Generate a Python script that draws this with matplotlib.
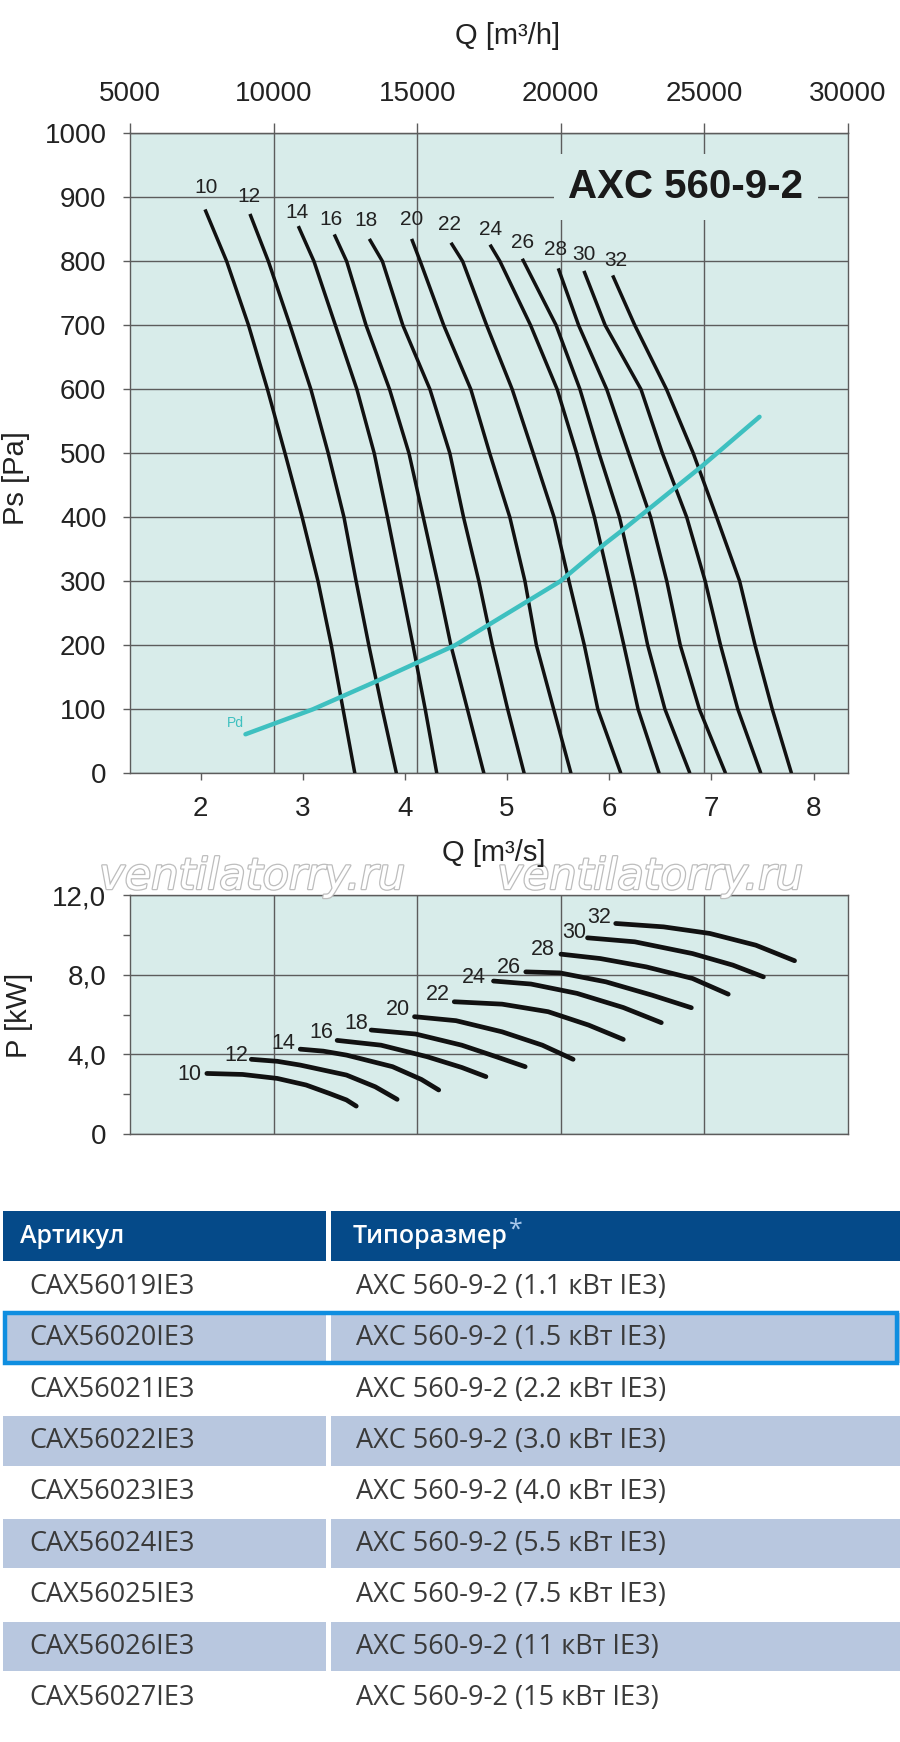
import matplotlib
matplotlib.use("Agg")
import matplotlib.pyplot as plt
from matplotlib.patches import Rectangle
import matplotlib.patheffects as pe

# ---------------- data ----------------
angles = [10, 12, 14, 16, 18, 20, 22, 24, 26, 28, 30, 32]

ps_q = [
    [2.044, 2.256, 2.47, 2.655, 2.827, 2.995, 3.15, 3.28, 3.395, 3.51],
    [2.484, 2.664, 2.876, 3.08, 3.25, 3.404, 3.523, 3.647, 3.779, 3.917],
    [2.957, 3.11, 3.32, 3.53, 3.70, 3.83, 3.955, 4.079, 4.199, 4.312],
    [3.309, 3.43, 3.62, 3.85, 4.04, 4.18, 4.319, 4.45, 4.612, 4.773],
    [3.652, 3.78, 3.98, 4.245, 4.44, 4.574, 4.724, 4.856, 5.006, 5.167],
    [4.066, 4.15, 4.38, 4.645, 4.83, 5.027, 5.175, 5.287, 5.456, 5.625],
    [4.451, 4.565, 4.80, 5.05, 5.256, 5.46, 5.606, 5.756, 5.888, 6.113],
    [4.833, 4.93, 5.23, 5.49, 5.681, 5.855, 6.00, 6.143, 6.282, 6.488],
    [5.149, 5.48, 5.713, 5.90, 6.10, 6.244, 6.376, 6.545, 6.789],
    [5.501, 5.70, 5.975, 6.19, 6.405, 6.563, 6.695, 6.882, 7.138],
    [5.752, 5.96, 6.31, 6.52, 6.758, 6.939, 7.089, 7.258, 7.483],
    [6.033, 6.25, 6.56, 6.822, 7.051, 7.276, 7.427, 7.595, 7.783],
]
ps_p = [
    [881, 800, 700, 600, 500, 400, 300, 200, 100, 0],
    [874, 800, 700, 600, 500, 400, 300, 200, 100, 0],
    [855, 800, 700, 600, 500, 400, 300, 200, 100, 0],
    [842, 800, 700, 600, 500, 400, 300, 200, 100, 0],
    [835, 800, 700, 600, 500, 400, 300, 200, 100, 0],
    [835, 800, 700, 600, 500, 400, 300, 200, 100, 0],
    [829, 800, 700, 600, 500, 400, 300, 200, 100, 0],
    [826, 800, 700, 600, 500, 400, 300, 200, 100, 0],
    [804, 700, 600, 500, 400, 300, 200, 100, 0],
    [789, 700, 600, 500, 400, 300, 200, 100, 0],
    [785, 700, 600, 500, 400, 300, 200, 100, 0],
    [778, 700, 600, 500, 400, 300, 200, 100, 0],
]
ps_label_q = [2.054, 2.478, 2.947, 3.277, 3.619, 4.066, 4.438, 4.842, 5.149, 5.475, 5.756, 6.066]
ps_label_p = [915, 902, 877, 866, 863, 866, 858, 850, 830, 818, 811, 801]

pd_q = [2.44, 3.10, 3.71, 4.49, 4.84, 5.52, 5.96, 6.17, 6.90, 7.47]
pd_p = [61, 100, 143, 200, 234, 300, 359, 385, 479, 557]

pw_q = [
    [2.062, 2.412, 2.751, 3.033, 3.259, 3.428, 3.524],
    [2.497, 2.751, 2.976, 3.428, 3.710, 3.924],
    [2.976, 3.202, 3.43, 3.879, 4.161, 4.331],
    [3.337, 3.766, 4.218, 4.557, 4.793],
    [3.670, 4.105, 4.556, 4.894, 5.177],
    [4.094, 4.50, 4.951, 5.345, 5.646],
    [4.483, 4.951, 5.402, 5.797, 6.137],
    [4.867, 5.233, 5.685, 6.137, 6.509],
    [5.183, 5.516, 5.967, 6.419, 6.803],
    [5.527, 5.911, 6.362, 6.814, 7.164],
    [5.787, 6.249, 6.814, 7.209, 7.508],
    [6.063, 6.532, 6.983, 7.434, 7.813],
]
pw_p = [
    [3.04, 2.99, 2.79, 2.46, 2.04, 1.71, 1.40],
    [3.75, 3.65, 3.46, 2.96, 2.37, 1.74],
    [4.26, 4.16, 3.96, 3.38, 2.74, 2.21],
    [4.70, 4.46, 3.88, 3.34, 2.88],
    [5.22, 5.02, 4.46, 3.88, 3.38],
    [5.89, 5.69, 5.13, 4.46, 3.75],
    [6.64, 6.52, 6.14, 5.47, 4.75],
    [7.68, 7.53, 7.06, 6.35, 5.59],
    [8.14, 8.09, 7.64, 6.97, 6.34],
    [9.03, 8.81, 8.39, 7.81, 7.02],
    [9.85, 9.65, 9.06, 8.48, 7.89],
    [10.57, 10.40, 10.07, 9.48, 8.70],
]
pw_label_q = [1.887, 2.35, 2.807, 3.18, 3.524, 3.936, 4.32, 4.675, 5.013, 5.346, 5.657, 5.905]
pw_label_p = [3.01, 3.93, 4.52, 5.10, 5.55, 6.27, 7.02, 7.86, 8.36, 9.28, 10.12, 10.87]

qs_ticks = [2, 3, 4, 5, 6, 7, 8]
qh_ticks = [5000, 10000, 15000, 20000, 25000, 30000]
ps_ticks = [0, 100, 200, 300, 400, 500, 600, 700, 800, 900, 1000]
pw_ticks = [0, 4, 8, 12]
pw_tick_labels = ["0", "4,0", "8,0", "12,0"]

articles = ["CAX56019IE3", "CAX56020IE3", "CAX56021IE3", "CAX56022IE3", "CAX56023IE3",
            "CAX56024IE3", "CAX56025IE3", "CAX56026IE3", "CAX56027IE3"]
sizes = ["AXC 560-9-2 (1.1 кВт IE3)", "AXC 560-9-2 (1.5 кВт IE3)", "AXC 560-9-2 (2.2 кВт IE3)",
         "AXC 560-9-2 (3.0 кВт IE3)", "AXC 560-9-2 (4.0 кВт IE3)", "AXC 560-9-2 (5.5 кВт IE3)",
         "AXC 560-9-2 (7.5 кВт IE3)", "AXC 560-9-2 (11 кВт IE3)", "AXC 560-9-2 (15 кВт IE3)"]

# ---------------- style ----------------
BG = "#d8ecea"
GRID = "#5c5c5c"
TEAL = "#3ec0c0"
FONT = ["Liberation Sans", "DejaVu Sans"]
plt.rcParams["font.family"] = FONT

W, H = 900, 1742
QS_L, QS_R = 1.310, 8.336


def s2h(q):
    return 5000 + (q - QS_L) * 25000.0 / (QS_R - QS_L)


def h2s(h):
    return QS_L + (h - 5000) * (QS_R - QS_L) / 25000.0


def fx(x):
    return x / W


def fy(y):
    return 1 - y / H


fig = plt.figure(figsize=(9, 17.42), dpi=100)
fig.patch.set_facecolor("white")

# ---------------- pressure chart ----------------
ax1 = fig.add_axes([fx(130), fy(773.3), 718 / W, 640 / H])
ax1.set_facecolor(BG)
ax1.set_xlim(QS_L, QS_R)
ax1.set_ylim(0, 1000)
ax1.set_axisbelow(True)
ax1.set_yticks(ps_ticks)
ax1.set_yticklabels([str(v) for v in ps_ticks])
ax1.set_xticks(qs_ticks)
ax1.set_xticklabels([str(v) for v in qs_ticks])
ax1.grid(axis="y", color=GRID, lw=1.0)
for h in qh_ticks[1:-1]:
    ax1.axvline(h2s(h), color=GRID, lw=1.0, zorder=0.6)
for s in ax1.spines.values():
    s.set_color(GRID)
    s.set_linewidth(1.0)
ax1.tick_params(axis="y", direction="out", length=5, width=1, color=GRID,
                labelsize=20, pad=12, labelcolor="#222222")
ax1.tick_params(axis="x", direction="out", length=5, width=1, color=GRID,
                labelsize=20, pad=11, labelcolor="#222222")

sec = ax1.secondary_xaxis("top", functions=(s2h, h2s))
sec.set_xticks(qh_ticks)
sec.set_xticklabels([str(v) for v in qh_ticks])
sec.tick_params(direction="out", length=7, width=1, color=GRID, labelsize=20,
                pad=12, labelcolor="#222222")
sec.spines["top"].set_color(GRID)

for i, a in enumerate(angles):
    ax1.plot(ps_q[i], ps_p[i], color="#111111", lw=2.5, solid_capstyle="butt",
             solid_joinstyle="round", zorder=3)
    ax1.text(ps_label_q[i], ps_label_p[i], str(a), fontsize=15, ha="center",
             va="center", color="#222222", zorder=4)

ax1.plot(pd_q, pd_p, color=TEAL, lw=3.2, solid_capstyle="round",
         solid_joinstyle="round", zorder=3.5)
ax1.text(2.344, 79, "Pd", fontsize=10, color=TEAL, ha="center", va="center", zorder=4)

ax1.text(6.75, 916, "AXC 560-9-2", fontsize=29, fontweight="bold", ha="center",
         va="center", color="#1a1a1a", zorder=2,
         bbox=dict(boxstyle="square,pad=0.35", facecolor=BG, edgecolor="none"))

fig.text(fx(508), fy(36), "Q [m³/h]", fontsize=21, ha="center", va="center", color="#222222")
fig.text(fx(16), fy(478), "Ps [Pa]", fontsize=21, ha="center", va="center",
         rotation=90, color="#222222")
fig.text(fx(494), fy(853), "Q [m³/s]", fontsize=21, ha="center", va="center",
         color="#222222", zorder=6)

# ---------------- power chart ----------------
ax2 = fig.add_axes([fx(130), fy(1134), 718 / W, 239 / H])
ax2.set_facecolor(BG)
ax2.set_xlim(QS_L, QS_R)
ax2.set_ylim(0, 12)
ax2.set_axisbelow(True)
ax2.set_yticks(pw_ticks)
ax2.set_yticklabels(pw_tick_labels)
ax2.set_yticks([2, 6, 10], minor=True)
ax2.set_xticks([])
ax2.grid(axis="y", which="major", color=GRID, lw=1.0)
for h in qh_ticks[1:-1]:
    ax2.axvline(h2s(h), color=GRID, lw=1.0, zorder=0.6)
for s in ax2.spines.values():
    s.set_color(GRID)
    s.set_linewidth(1.0)
ax2.tick_params(axis="y", which="both", direction="out", length=5, width=1,
                color=GRID, labelsize=20, pad=12, labelcolor="#222222")

for i, a in enumerate(angles):
    ax2.plot(pw_q[i], pw_p[i], color="#111111", lw=3.4, solid_capstyle="round",
             solid_joinstyle="round", zorder=3)
    ax2.text(pw_label_q[i], pw_label_p[i], str(a), fontsize=15.5, ha="center",
             va="center", color="#222222", zorder=4)

fig.text(fx(19), fy(1015), "P [kW]", fontsize=21, ha="center", va="center",
         rotation=90, color="#222222")

# watermark
for xc in (252, 650):
    fig.text(fx(xc), fy(877), "ventilatorry.ru", fontsize=31, style="italic",
             family="DejaVu Sans", color="white", ha="center", va="center", zorder=5,
             path_effects=[pe.withStroke(linewidth=1.8, foreground="#bdbdbd")])

# ---------------- table ----------------
axT = fig.add_axes([0, 0, 1, 1], zorder=-1)
axT.set_xlim(0, W)
axT.set_ylim(H, 0)
axT.axis("off")

TFONT = ["Open Sans", "DejaVu Sans"]
HEAD = "#054a89"
SHADE = "#b8c7df"
TXT = "#3a3a3a"
head_top, head_h = 1211, 50
row_h = 51.4
c1x, c1w = 3, 323
c2x, c2w = 331, 569

axT.add_patch(Rectangle((c1x, head_top), c1w, head_h, facecolor=HEAD, edgecolor="none"))
axT.add_patch(Rectangle((c2x, head_top), c2w, head_h, facecolor=HEAD, edgecolor="none"))
axT.text(20, head_top + head_h / 2, "Артикул", color="white", fontsize=18,
         family=TFONT, fontweight="semibold", va="center", ha="left")
t_head = axT.text(353, head_top + head_h / 2, "Типоразмер", color="white", fontsize=18,
                  family=TFONT, fontweight="semibold", va="center", ha="left")
fig.canvas.draw()
x_end = t_head.get_window_extent().x1
axT.text(x_end + 1, head_top + head_h / 2 - 6, "*", color="#a8c8ec", fontsize=18,
         family=TFONT, va="center", ha="left")

table_top = head_top + head_h
for i, (art, sz) in enumerate(zip(articles, sizes)):
    top = table_top + i * row_h
    if i % 2 == 1:
        axT.add_patch(Rectangle((c1x, top + 1), c1w, row_h - 2, facecolor=SHADE, edgecolor="none"))
        axT.add_patch(Rectangle((c2x, top + 1), c2w, row_h - 2, facecolor=SHADE, edgecolor="none"))
    axT.text(29, top + row_h / 2, art, color=TXT, fontsize=19.5, family=TFONT,
             va="center", ha="left")
    axT.text(356, top + row_h / 2, sz, color=TXT, fontsize=19.5, family=TFONT,
             va="center", ha="left")

hl_top = table_top + 1 * row_h
axT.add_patch(Rectangle((4.5, hl_top + 0.5), 892, row_h - 1, fill=False,
                        edgecolor="#0f8ee0", lw=3.2))

fig.savefig("out.png", dpi=100, facecolor="white")
